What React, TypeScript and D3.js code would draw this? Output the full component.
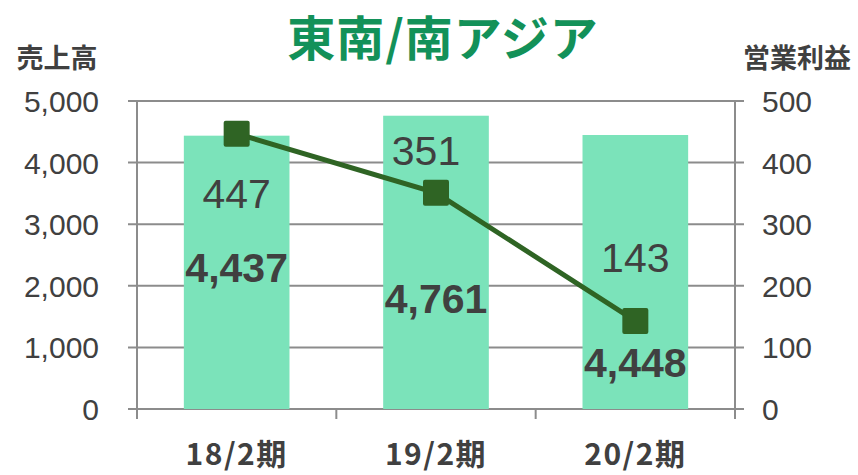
import * as d3 from 'd3';

// data
const periods = ['18/2期', '19/2期', '20/2期'];
const sales = [4437, 4761, 4448];
const profit = [447, 351, 143];
const salesTicks = [0, 1000, 2000, 3000, 4000, 5000];
const profitTicks = [0, 100, 200, 300, 400, 500];

const W = 858;
const H = 475;
const margin = { top: 101, left: 137, right: 123, bottom: 66 };
const innerW = W - margin.left - margin.right;
const innerH = H - margin.top - margin.bottom;

const barColor = '#7be3ba';
const lineColor = '#2f6424';
const gridColor = '#8c8c8c';
const textColor = '#404040';
const numFont = '"Liberation Sans", Arial, sans-serif';
const cjkFont = '"Noto Sans CJK JP", "Noto Sans", sans-serif';

// hand placed label offsets, like the original slide
const salesLabelShift = [10, 51, 105];
const profitLabelShift = [74, -28, -49];
const profitLabelDx = [0, -10, 0];

export default function App() {
  const x = d3.scaleBand<string>().domain(periods).range([0, innerW]).paddingInner(0.47).paddingOuter(0.235);
  const band = d3.scaleBand<string>().domain(periods).range([0, innerW]);
  const yL = d3.scaleLinear().domain([0, 5000]).range([innerH, 0]);
  const yR = d3.scaleLinear().domain([0, 500]).range([innerH, 0]);
  const fmt = d3.format(',');

  const line = d3
    .line<number>()
    .x((_, i) => x(periods[i])! + x.bandwidth() / 2)
    .y((d) => yR(d));

  const mk = 26;

  return (
    <svg width={W} height={H} style={{ position: 'absolute', left: 0, top: 0, background: '#fff' }}>
      <text x={443} y={56} textAnchor="middle" fontFamily={cjkFont} fontWeight={700} fontSize={48} letterSpacing={1} fill="#139159">
        東南/南アジア
      </text>
      <text x={57} y={68} textAnchor="middle" fontFamily={cjkFont} fontWeight={700} fontSize={27} fill={textColor}>
        売上高
      </text>
      <text x={797} y={68} textAnchor="middle" fontFamily={cjkFont} fontWeight={700} fontSize={27} fill={textColor}>
        営業利益
      </text>
      <g transform={`translate(${margin.left},${margin.top})`}>
        {/* grid */}
        {salesTicks.map((t) => (
          <line key={t} x1={-9} x2={innerW + 9} y1={yL(t)} y2={yL(t)} stroke={gridColor} strokeWidth={2} />
        ))}
        {/* axis lines */}
        <line x1={0} x2={0} y1={0} y2={innerH + 10} stroke={gridColor} strokeWidth={2} />
        <line x1={innerW} x2={innerW} y1={0} y2={innerH + 10} stroke={gridColor} strokeWidth={2} />
        {periods.slice(1).map((p) => (
          <line key={p} x1={band(p)!} x2={band(p)!} y1={innerH} y2={innerH + 10} stroke={gridColor} strokeWidth={2} />
        ))}
        {/* bars */}
        {sales.map((v, i) => (
          <rect key={i} x={x(periods[i])!} y={yL(v)} width={x.bandwidth()} height={innerH - yL(v)} fill={barColor} />
        ))}
        {/* tick labels */}
        {salesTicks.map((t) => (
          <text key={t} x={-38} y={yL(t) + 11} textAnchor="end" fontFamily={numFont} fontSize={30} fill={textColor}>
            {fmt(t)}
          </text>
        ))}
        {profitTicks.map((t) => (
          <text key={t} x={innerW + 27} y={yR(t) + 11} textAnchor="start" fontFamily={numFont} fontSize={30} fill={textColor}>
            {t}
          </text>
        ))}
        {/* line + markers */}
        <path d={line(profit)!} fill="none" stroke={lineColor} strokeWidth={5} />
        {profit.map((v, i) => (
          <rect
            key={i}
            x={x(periods[i])! + x.bandwidth() / 2 - mk / 2}
            y={yR(v) - mk / 2}
            width={mk}
            height={mk}
            rx={2}
            fill={lineColor}
          />
        ))}
        {/* value labels */}
        {sales.map((v, i) => (
          <text
            key={i}
            x={x(periods[i])! + x.bandwidth() / 2}
            y={(yL(v) + innerH) / 2 + salesLabelShift[i]}
            textAnchor="middle"
            fontFamily={numFont}
            fontWeight={700}
            fontSize={41}
            fill={textColor}
          >
            {fmt(v)}
          </text>
        ))}
        {profit.map((v, i) => (
          <text
            key={i}
            x={x(periods[i])! + x.bandwidth() / 2 + profitLabelDx[i]}
            y={yR(v) + profitLabelShift[i]}
            textAnchor="middle"
            fontFamily={numFont}
            fontSize={41}
            fill={textColor}
          >
            {v}
          </text>
        ))}
        {/* category labels */}
        {periods.map((p) => (
          <text
            key={p}
            x={band(p)! + band.bandwidth() / 2}
            y={innerH + 56}
            textAnchor="middle"
            fontFamily={cjkFont}
            fontWeight={700}
            fontSize={30}
            letterSpacing={1.5}
            fill={textColor}
          >
            {p}
          </text>
        ))}
      </g>
    </svg>
  );
}
